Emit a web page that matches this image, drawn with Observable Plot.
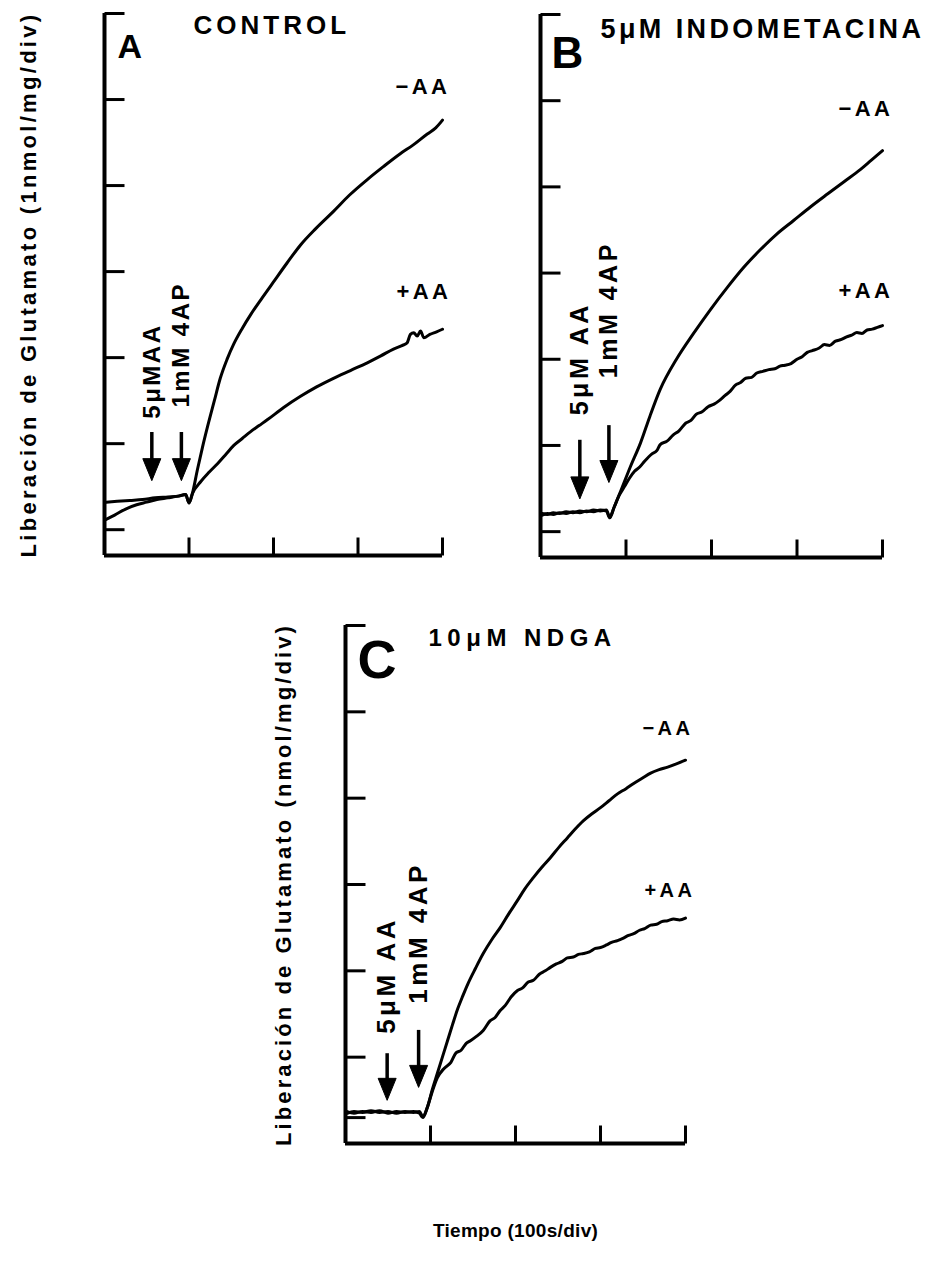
<!DOCTYPE html>
<html>
<head>
<meta charset="utf-8">
<script src="https://cdn.jsdelivr.net/npm/d3@7"></script>
<script src="https://cdn.jsdelivr.net/npm/@observablehq/plot@0.6"></script>
<style>
html, body { margin: 0; padding: 0; background: #fff; }
#fig { position: relative; width: 929px; height: 1264px; overflow: hidden; background: #fff; }
</style>
</head>
<body>
<div id="fig"></div>
<script>
// ---------- data (time in divisions of 100 s, release in divisions) ----------
const xTicks = [1, 2, 3, 4];
const yTicksA = [1, 2, 3, 4, 5, 6, 7];
const yTicksB = [1, 2, 3, 4, 5, 6, 7];
const yTicksC = [0.3, 1, 2, 3, 4, 5, 6];

const panelLetters = ["A", "B", "C"];
const panelTitles = ["CONTROL", "5μM INDOMETACINA", "10μM NDGA"];
const seriesLabels = ["−AA", "+AA"];
const yLabelA = "Liberación de Glutamato (1nmol/mg/div)";
const yLabelC = "Liberación de Glutamato (nmol/mg/div)";
const xLabel = "Tiempo (100s/div)";

const eventsA = [
  {label: "5μMAA", t: 0.56, top: 2.13, tip: 1.57, ly: 2.29},
  {label: "1mM 4AP", t: 0.91, top: 2.13, tip: 1.57, ly: 2.42}
];
const eventsB = [
  {label: "5μM AA", t: 0.46, top: 2.06, tip: 1.38, ly: 2.35},
  {label: "1mM 4AP", t: 0.80, top: 2.23, tip: 1.57, ly: 2.78}
];
const eventsC = [
  {label: "5μM AA", t: 0.49, top: 1.04, tip: 0.50, ly: 1.27},
  {label: "1mM 4AP", t: 0.86, top: 1.31, tip: 0.65, ly: 1.62}
];

const aMinus = [[0.02,1.12],[0.12,1.17],[0.25,1.24],[0.38,1.29],[0.5,1.32],[0.62,1.35],[0.75,1.37],[0.87,1.39],[0.96,1.41],[1.0,1.31],[1.04,1.42],[1.10,1.70],[1.16,1.96],[1.22,2.20],[1.30,2.50],[1.37,2.76],[1.45,2.98],[1.53,3.16],[1.63,3.34],[1.73,3.50],[1.87,3.70],[2.00,3.88],[2.16,4.10],[2.32,4.31],[2.50,4.50],[2.71,4.70],[2.90,4.89],[3.11,5.07],[3.30,5.22],[3.50,5.37],[3.65,5.47],[3.82,5.60],[3.92,5.67],[4.00,5.76]];
const aPlus = [[0.02,1.32],[0.15,1.33],[0.3,1.34],[0.45,1.35],[0.6,1.37],[0.75,1.38],[0.88,1.39],[0.96,1.41],[1.0,1.31],[1.04,1.42],[1.14,1.56],[1.24,1.67],[1.34,1.77],[1.44,1.88],[1.53,1.98],[1.63,2.06],[1.73,2.14],[1.83,2.21],[1.93,2.28],[2.12,2.42],[2.32,2.55],[2.51,2.66],[2.71,2.76],[2.91,2.85],[3.11,2.94],[3.27,3.02],[3.42,3.10],[3.52,3.14],[3.58,3.17],[3.62,3.27],[3.66,3.29],[3.70,3.25],[3.74,3.31],[3.78,3.23],[3.85,3.27],[3.93,3.30],[4.00,3.33]];

const bMinus = [[0.02,1.19],[0.08,1.21],[0.15,1.20],[0.22,1.22],[0.3,1.21],[0.38,1.23],[0.46,1.22],[0.54,1.24],[0.62,1.23],[0.7,1.25],[0.77,1.24],[0.81,1.16],[0.86,1.28],[0.95,1.50],[1.05,1.75],[1.17,2.03],[1.28,2.34],[1.40,2.65],[1.59,3.00],[1.79,3.30],[1.99,3.58],[2.19,3.84],[2.38,4.07],[2.57,4.27],[2.76,4.45],[2.96,4.61],[3.16,4.77],[3.36,4.92],[3.55,5.06],[3.74,5.20],[3.87,5.31],[4.00,5.42]];
const bPlus = [[0.02,1.21],[0.08,1.20],[0.15,1.22],[0.22,1.21],[0.3,1.23],[0.38,1.22],[0.46,1.24],[0.54,1.23],[0.62,1.25],[0.7,1.24],[0.77,1.25],[0.81,1.17],[0.86,1.28],[0.92,1.42],[0.98,1.52],[1.04,1.62],[1.10,1.70],[1.16,1.75],[1.22,1.82],[1.30,1.90],[1.36,1.94],[1.40,2.01],[1.48,2.05],[1.55,2.12],[1.62,2.17],[1.70,2.26],[1.76,2.29],[1.82,2.36],[1.89,2.39],[1.96,2.45],[2.03,2.48],[2.09,2.52],[2.16,2.58],[2.22,2.63],[2.28,2.70],[2.34,2.73],[2.40,2.78],[2.47,2.79],[2.53,2.84],[2.60,2.86],[2.67,2.88],[2.74,2.89],[2.80,2.92],[2.86,2.93],[2.93,2.95],[3.00,3.00],[3.06,3.03],[3.12,3.08],[3.18,3.10],[3.26,3.13],[3.32,3.17],[3.38,3.16],[3.45,3.21],[3.52,3.23],[3.58,3.26],[3.64,3.28],[3.70,3.31],[3.76,3.30],[3.82,3.34],[3.88,3.35],[3.94,3.37],[4.00,3.39]];

const cMinus = [[0.02,0.35],[0.1,0.37],[0.2,0.36],[0.3,0.38],[0.4,0.36],[0.5,0.37],[0.6,0.35],[0.7,0.37],[0.8,0.36],[0.87,0.37],[0.91,0.31],[0.96,0.41],[1.02,0.62],[1.08,0.81],[1.14,1.00],[1.20,1.19],[1.26,1.38],[1.32,1.56],[1.38,1.71],[1.44,1.85],[1.53,2.03],[1.62,2.20],[1.72,2.36],[1.82,2.50],[1.92,2.66],[2.02,2.81],[2.11,2.95],[2.21,3.08],[2.31,3.20],[2.41,3.31],[2.51,3.43],[2.61,3.54],[2.70,3.64],[2.80,3.74],[2.90,3.82],[3.00,3.89],[3.10,3.97],[3.20,4.05],[3.30,4.11],[3.39,4.17],[3.49,4.23],[3.59,4.29],[3.69,4.33],[3.79,4.36],[3.90,4.40],[4.00,4.44]];
const cPlus = [[0.02,0.37],[0.1,0.35],[0.2,0.37],[0.3,0.36],[0.4,0.38],[0.5,0.35],[0.6,0.37],[0.7,0.36],[0.8,0.37],[0.87,0.35],[0.91,0.30],[0.96,0.41],[1.02,0.60],[1.08,0.76],[1.16,0.87],[1.24,0.94],[1.30,1.05],[1.36,1.08],[1.42,1.16],[1.47,1.19],[1.54,1.24],[1.62,1.31],[1.70,1.42],[1.76,1.46],[1.82,1.54],[1.88,1.60],[1.95,1.70],[2.02,1.77],[2.08,1.80],[2.15,1.87],[2.21,1.89],[2.28,1.96],[2.35,2.00],[2.41,2.04],[2.48,2.08],[2.55,2.11],[2.61,2.15],[2.68,2.16],[2.74,2.19],[2.80,2.20],[2.87,2.22],[2.94,2.26],[3.00,2.27],[3.07,2.30],[3.13,2.33],[3.20,2.35],[3.27,2.38],[3.33,2.41],[3.39,2.43],[3.46,2.47],[3.52,2.49],[3.59,2.53],[3.66,2.54],[3.72,2.57],[3.79,2.58],[3.86,2.60],[3.93,2.59],[4.00,2.61]];

// ---------- drawing ----------
const FONT = "Liberation Sans, Arial, Helvetica, sans-serif";
const rightTick = {draw(c) { c.moveTo(0, 0); c.lineTo(20, 0); }};
const upTick = {draw(c) { c.moveTo(0, 0); c.lineTo(0, -18); }};
const arrowHead = {draw(c) { c.moveTo(-9, -22); c.lineTo(9, -22); c.lineTo(0, 0); c.closePath(); }};
const rows = (pts) => pts.map(([t, v]) => ({t, v}));

function panel(cfg) {
  const minus = rows(cfg.minus), plus = rows(cfg.plus);
  const y0 = cfg.yDomain[0];
  const bold = {fontWeight: "bold", fontFamily: FONT, fill: "black"};
  const marks = [
    Plot.ruleX([0], {stroke: "black", strokeWidth: 4}),
    Plot.ruleY([y0], {stroke: "black", strokeWidth: 4}),
    Plot.dot(cfg.yTicks, {x: 0, y: (d) => d, symbol: rightTick, r: 5, stroke: "black", fill: "none", strokeWidth: 3}),
    Plot.dot(xTicks, {x: (d) => d, y: y0, symbol: upTick, r: 5, stroke: "black", fill: "none", strokeWidth: 3}),
    Plot.line(minus, {x: "t", y: "v", curve: "monotone-x", stroke: "black", strokeWidth: 3, strokeLinejoin: "round", strokeLinecap: "round"}),
    Plot.line(plus, {x: "t", y: "v", curve: "monotone-x", stroke: "black", strokeWidth: 3, strokeLinejoin: "round", strokeLinecap: "round"}),
    Plot.ruleX(cfg.events, {x: "t", y1: "top", y2: "tip", stroke: "black", strokeWidth: 3.5, insetBottom: 12}),
    Plot.dot(cfg.events, {x: "t", y: "tip", symbol: arrowHead, r: 5, fill: "black", stroke: "black", strokeWidth: 1}),
    Plot.text(cfg.events, {x: "t", y: "ly", text: "label", rotate: -90, textAnchor: "start", lineAnchor: "middle", fontSize: cfg.evFont, ...bold}),
    Plot.text([{...minus[minus.length - 1], label: seriesLabels[0]}], {x: "t", y: "v", text: "label", textAnchor: "end", lineAnchor: "bottom", dx: cfg.minusLab[0], dy: cfg.minusLab[1], fontSize: cfg.serFont, ...bold}),
    Plot.text([{...plus[plus.length - 1], label: seriesLabels[1]}], {x: "t", y: "v", text: "label", textAnchor: "end", lineAnchor: "bottom", dx: cfg.plusLab[0], dy: cfg.plusLab[1], fontSize: cfg.serFont, ...bold}),
    Plot.text([cfg.letter], {frameAnchor: "top-left", textAnchor: "start", lineAnchor: "bottom", dx: cfg.letterPos[0], dy: cfg.letterPos[1], fontSize: cfg.letterFont, ...bold}),
    Plot.text([cfg.title], {frameAnchor: "top-left", textAnchor: "start", lineAnchor: "bottom", dx: cfg.titlePos[0], dy: cfg.titlePos[1], fontSize: cfg.titleFont, ...bold})
  ];
  if (cfg.yLabel) {
    marks.push(Plot.text([cfg.yLabel], {frameAnchor: "left", rotate: -90, textAnchor: "middle", lineAnchor: "middle", dx: cfg.yLabelDx, fontSize: 22, ...bold}));
  }
  if (cfg.xLabel) {
    marks.push(Plot.text([cfg.xLabel], {frameAnchor: "bottom", textAnchor: "middle", lineAnchor: "middle", dy: cfg.xLabelDy, fontSize: 19, ...bold}));
  }
  const svg = Plot.plot({
    width: cfg.width, height: cfg.height,
    marginLeft: cfg.m[0], marginRight: cfg.m[1], marginTop: cfg.m[2], marginBottom: cfg.m[3],
    x: {domain: [0, 4], axis: null},
    y: {domain: cfg.yDomain, axis: null},
    style: {background: "none", overflow: "visible", fontFamily: FONT, color: "black"},
    marks
  });
  svg.style.position = "absolute";
  svg.style.left = cfg.left + "px";
  svg.style.top = cfg.top + "px";
  // letter spacing, looked up by text content
  const spacing = new Map();
  cfg.events.forEach((e) => spacing.set(e.label, cfg.evLs));
  seriesLabels.forEach((s) => spacing.set(s, cfg.serLs));
  spacing.set(cfg.title, cfg.titleLs);
  if (cfg.yLabel) spacing.set(cfg.yLabel, cfg.yLabelLs);
  if (cfg.xLabel) spacing.set(cfg.xLabel, 0.3);
  svg.querySelectorAll("text").forEach((t) => {
    const ls = spacing.get(t.textContent);
    if (ls) t.setAttribute("letter-spacing", ls);
  });
  document.getElementById("fig").appendChild(svg);
}

panel({
  left: 0, top: 0, width: 470, height: 580, m: [104, 28, 13, 25], yDomain: [0.7, 7],
  yTicks: yTicksA, minus: aMinus, plus: aPlus, events: eventsA,
  evFont: 24, evLs: 2.5, serFont: 22, serLs: 3.5, minusLab: [8, -26], plusLab: [9, -30],
  letter: panelLetters[0], letterPos: [13, 44], letterFont: 34,
  title: panelTitles[0], titlePos: [89, 20], titleFont: 26, titleLs: 4,
  yLabel: yLabelA, yLabelDx: -76, yLabelLs: 3.3
});
panel({
  left: 470, top: 0, width: 459, height: 580, m: [70, 47, 14, 23], yDomain: [0.7, 7],
  yTicks: yTicksB, minus: bMinus, plus: bPlus, events: eventsB,
  evFont: 25, evLs: 3.5, serFont: 22, serLs: 3.5, minusLab: [11, -35], plusLab: [11, -28],
  letter: panelLetters[1], letterPos: [11, 53], letterFont: 44,
  title: panelTitles[1], titlePos: [60, 23], titleFont: 27, titleLs: 3.4
});
panel({
  left: 250, top: 600, width: 480, height: 664, m: [95, 45, 25, 121], yDomain: [0, 6],
  yTicks: yTicksC, minus: cMinus, plus: cPlus, events: eventsC,
  evFont: 26, evLs: 3.5, serFont: 20, serLs: 3.5, minusLab: [8, -25], plusLab: [10, -21],
  letter: panelLetters[2], letterPos: [12, 52], letterFont: 54,
  title: panelTitles[2], titlePos: [83, 20], titleFont: 24, titleLs: 5.5,
  yLabel: yLabelC, yLabelDx: -62, yLabelLs: 3.1,
  xLabel: xLabel, xLabelDy: 87
});
</script>
</body>
</html>
